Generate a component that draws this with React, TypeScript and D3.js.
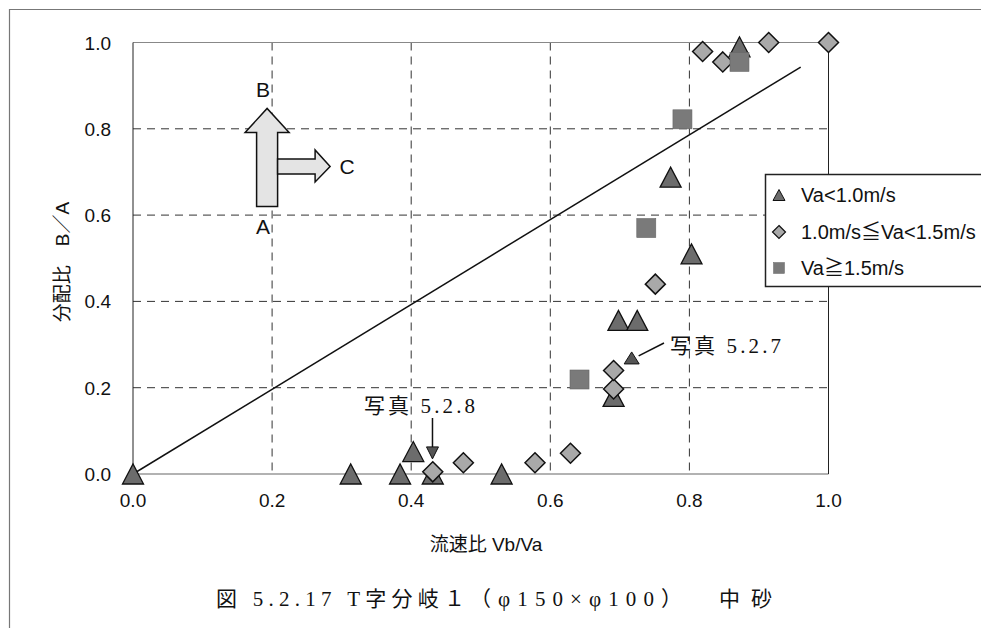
import * as d3 from 'd3';

// 流速比 Vb/Va (x) vs 分配比 B/A (y)
const triX = [0, 0.313, 0.384, 0.403, 0.431, 0.53, 0.691, 0.698, 0.725, 0.773, 0.803, 0.872];
const triY = [0, 0, 0, 0.052, 0, 0, 0.18, 0.356, 0.356, 0.688, 0.51, 0.99];
const diaX = [0.431, 0.475, 0.578, 0.629, 0.691, 0.691, 0.751, 0.819, 0.848, 0.914, 1.0];
const diaY = [0.005, 0.026, 0.026, 0.048, 0.197, 0.24, 0.44, 0.979, 0.955, 1.0, 1.0];
const sqX = [0.642, 0.738, 0.79, 0.872];
const sqY = [0.219, 0.57, 0.822, 0.955];

const refLine = [[0, 0], [0.96, 0.943]];
const ticks = [0, 0.2, 0.4, 0.6, 0.8, 1.0];
const legendLabels = ['Va<1.0m/s', '1.0m/s≦Va<1.5m/s', 'Va≧1.5m/s'];

const W = 981;
const H = 628;
const SANS = "'Liberation Sans', Arial, 'Noto Sans CJK JP', sans-serif";
const SERIF = "'Liberation Serif', 'DejaVu Serif', 'Noto Sans CJK JP', serif";

const triPath = (cx: number, cy: number, w: number, h: number) =>
  `M${cx - w / 2},${cy + h / 2}L${cx},${cy - h / 2}L${cx + w / 2},${cy + h / 2}Z`;
const diaPath = (cx: number, cy: number, r: number) =>
  `M${cx},${cy - r}L${cx + r},${cy}L${cx},${cy + r}L${cx - r},${cy}Z`;

const TRI_FILL = '#6c6c6c';
const DIA_FILL = '#a9a9a9';
const SQ_FILL = '#7a7a7a';

export default function App() {
  const x = d3.scaleLinear().domain([0, 1]).range([133, 828.5]);
  const y = d3.scaleLinear().domain([0, 1]).range([474, 42.5]);
  const line = d3.line<number[]>().x(d => x(d[0])).y(d => y(d[1]));

  // B / C flow diagram, anchored at data coords
  const ax = x(0.2) - 5;
  const ay = y(0.62);
  const arrowV = `M${ax - 10.5},${ay}L${ax - 10.5},${ay - 74}L${ax - 22},${ay - 74}L${ax},${ay - 98}L${ax + 22},${ay - 74}L${ax + 10.5},${ay - 74}L${ax + 10.5},${ay}Z`;
  const arrowH = `M${ax + 10.5},${ay - 47.5}L${ax + 48},${ay - 47.5}L${ax + 48},${ay - 56.5}L${ax + 63},${ay - 40}L${ax + 48},${ay - 24.5}L${ax + 48},${ay - 32.5}L${ax + 10.5},${ay - 32.5}Z`;

  const a8x = x(0.4306);
  const a8tip = y(0.035);
  const p7 = [x(0.717), y(0.269)];

  return (
    <svg width={W} height={H} style={{ position: 'absolute', left: 0, top: 0, background: '#fff' }}>
      {/* outer frame */}
      <path d={`M9.5,${H}L9.5,9.5L${W},9.5`} fill="none" stroke="#777" strokeWidth={1.2} />

      {/* grid */}
      {ticks.slice(1, 5).map(t => (
        <g key={'g' + t}>
          <line x1={x(t)} x2={x(t)} y1={y(1)} y2={y(0)} stroke="#333" strokeWidth={1} strokeDasharray="8,6" />
          <line x1={x(0)} x2={x(1)} y1={y(t)} y2={y(t)} stroke="#333" strokeWidth={1} strokeDasharray="8,6" />
        </g>
      ))}
      {/* plot frame */}
      <line x1={x(0)} x2={x(1)} y1={y(1)} y2={y(1)} stroke="#888" strokeWidth={1} />
      <line x1={x(0)} x2={x(1)} y1={y(0)} y2={y(0)} stroke="#666" strokeWidth={1.2} />
      <line x1={x(0)} x2={x(0)} y1={y(1)} y2={y(0)} stroke="#222" strokeWidth={1} />
      <line x1={x(1)} x2={x(1)} y1={y(1)} y2={y(0)} stroke="#222" strokeWidth={1} />

      {/* tick labels */}
      {ticks.map(t => (
        <text key={'yt' + t} x={111} y={y(t) + 7} textAnchor="end" fontFamily={SANS} fontSize={19} fill="#111">
          {t.toFixed(1)}
        </text>
      ))}
      {ticks.map(t => (
        <text key={'xt' + t} x={x(t)} y={507} textAnchor="middle" fontFamily={SANS} fontSize={19} fill="#111">
          {t.toFixed(1)}
        </text>
      ))}

      {/* axis titles */}
      <text x={486} y={551} textAnchor="middle" fontFamily={SANS} fontSize={19} fill="#111">流速比 Vb/Va</text>
      <text transform={`translate(69,262) rotate(-90)`} textAnchor="middle" fontFamily={SANS} fontSize={19} fill="#111">
        分配比　B／A
      </text>

      {/* flow diagram */}
      <path d={arrowV} fill="#e4e4e4" stroke="#111" strokeWidth={1.5} />
      <path d={arrowH} fill="#e4e4e4" stroke="#111" strokeWidth={1.5} />
      <text x={ax - 4} y={ay - 109} textAnchor="middle" fontFamily={SANS} fontSize={21} fill="#111">B</text>
      <text x={ax - 4} y={ay + 28} textAnchor="middle" fontFamily={SANS} fontSize={21} fill="#111">A</text>
      <text x={ax + 80} y={ay - 32} textAnchor="middle" fontFamily={SANS} fontSize={21} fill="#111">C</text>

      {/* reference line */}
      <path d={line(refLine) || ''} fill="none" stroke="#111" strokeWidth={1.5} />

      {/* series */}
      {triX.map((v, i) => (
        <path key={'t' + i} d={triPath(x(v), y(triY[i]), 21, 20)} fill={TRI_FILL} stroke="#111" strokeWidth={1.3} />
      ))}
      {diaX.map((v, i) => (
        <path key={'d' + i} d={diaPath(x(v), y(diaY[i]), 10)} fill={DIA_FILL} stroke="#111" strokeWidth={1.5} />
      ))}
      {sqX.map((v, i) => (
        <rect key={'s' + i} x={x(v) - 9.5} y={y(sqY[i]) - 9.5} width={19} height={19} fill={SQ_FILL} stroke="#666" strokeWidth={0.6} />
      ))}

      {/* annotations */}
      <text x={364} y={413} fontFamily={SERIF} fontSize={21} fill="#111" textLength={111} lengthAdjust="spacing">写真 5.2.8</text>
      <line x1={a8x} x2={a8x} y1={418} y2={a8tip - 10} stroke="#111" strokeWidth={1.5} />
      <path d={`M${a8x - 6},${a8tip - 12}L${a8x + 6},${a8tip - 12}L${a8x},${a8tip}Z`} fill="#555" stroke="#111" strokeWidth={1} />

      <text x={670} y={353} fontFamily={SERIF} fontSize={21} fill="#111" textLength={111} lengthAdjust="spacing">写真 5.2.7</text>
      <line x1={664} y1={343} x2={p7[0] + 7} y2={p7[1] - 2} stroke="#111" strokeWidth={1.5} />
      <path d={triPath(p7[0], p7[1], 15, 12)} fill="#555" stroke="#111" strokeWidth={1} />

      {/* legend */}
      <rect x={765.5} y={174.5} width={230} height={112} fill="#fff" stroke="#222" strokeWidth={1.5} />
      <path d={triPath(779, 195, 12, 11)} fill={TRI_FILL} stroke="#111" strokeWidth={1} />
      <path d={diaPath(779, 232, 6.5)} fill={DIA_FILL} stroke="#111" strokeWidth={1.2} />
      <rect x={773.5} y={262.5} width={11} height={11} fill={SQ_FILL} stroke="#666" strokeWidth={0.5} />
      {legendLabels.map((l, i) => (
        <text key={'l' + i} x={801} y={[202, 239, 275][i]} fontFamily={SANS} fontSize={20} fill="#111">{l}</text>
      ))}

      {/* caption */}
      <text x={216} y={606} fontFamily={SERIF} fontSize={21} fill="#111" textLength={249} lengthAdjust="spacing">図 5.2.17 T字分岐１</text>
      <text x={470} y={606} fontFamily={SERIF} fontSize={21} fill="#111" textLength={212} lengthAdjust="spacing">（φ150×φ100）</text>
      <text x={719} y={606} fontFamily={SERIF} fontSize={21} fill="#111" textLength={53} lengthAdjust="spacing">中砂</text>
    </svg>
  );
}
